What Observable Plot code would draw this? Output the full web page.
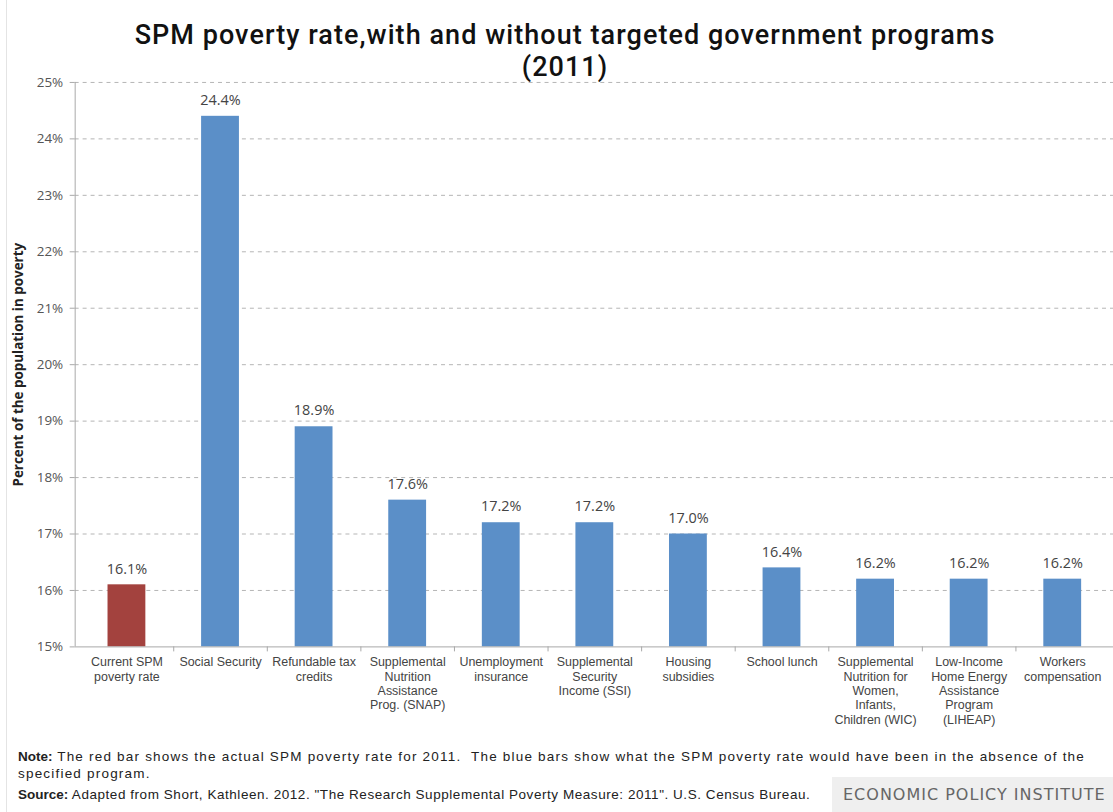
<!DOCTYPE html>
<html><head><meta charset="utf-8">
<script src="https://cdn.jsdelivr.net/npm/d3@7"></script>
<script src="https://cdn.jsdelivr.net/npm/@observablehq/plot@0.6"></script>
<style>
html,body{margin:0;padding:0;background:#fff;}
body{width:1113px;height:812px;overflow:hidden;position:relative;font-family:"Open Sans",sans-serif;}
#border{position:absolute;left:6px;top:0;width:1px;height:812px;background:#e4e4e4;}
#title{position:absolute;left:0;width:1130px;top:19px;text-align:center;font-family:Roboto,sans-serif;font-weight:500;font-size:27px;line-height:32px;color:#111;letter-spacing:1.05px;}
#chart{position:absolute;left:0;top:70px;}
#notes{position:absolute;left:18px;top:749px;font-family:"Liberation Sans",Arial,sans-serif;font-size:13.5px;color:#222;line-height:16.5px;width:1095px;white-space:nowrap;}
#note{letter-spacing:1.2px;}
#notes b{font-weight:700;letter-spacing:0;}
#source{margin-top:5px;letter-spacing:0.55px;}
#epi{position:absolute;left:832px;top:777px;width:281px;height:35px;background:#efefef;color:#666;font-family:"DejaVu Sans",sans-serif;font-size:16px;line-height:36px;padding-left:11px;box-sizing:border-box;white-space:nowrap;letter-spacing:1px;}
</style></head>
<body>
<div id="border"></div>
<div id="title">SPM poverty rate,with and without targeted government programs<br>(2011)</div>
<div id="chart"></div>
<div id="notes">
<div id="note"><b>Note:</b> The red bar shows the actual SPM poverty rate for 2011.&nbsp; The blue bars show what the SPM poverty rate would have been in the absence of the<br>specified program.</div>
<div id="source"><b>Source:</b> Adapted from Short, Kathleen. 2012. "The Research Supplemental Poverty Measure: 2011". U.S. Census Bureau.</div>
</div>
<div id="epi">ECONOMIC POLICY INSTITUTE</div>
<script>
const categories = [
  "Current SPM poverty rate", "Social Security", "Refundable tax credits",
  "Supplemental Nutrition Assistance Prog. (SNAP)", "Unemployment insurance",
  "Supplemental Security Income (SSI)", "Housing subsidies", "School lunch",
  "Supplemental Nutrition for Women, Infants, Children (WIC)",
  "Low-Income Home Energy Assistance Program (LIHEAP)", "Workers compensation"
];
const tickLabels = [
  "Current SPM\npoverty rate", "Social Security", "Refundable tax\ncredits",
  "Supplemental\nNutrition\nAssistance\nProg. (SNAP)", "Unemployment\ninsurance",
  "Supplemental\nSecurity\nIncome (SSI)", "Housing\nsubsidies", "School lunch",
  "Supplemental\nNutrition for\nWomen,\nInfants,\nChildren (WIC)",
  "Low-Income\nHome Energy\nAssistance\nProgram\n(LIHEAP)", "Workers\ncompensation"
];
const values = [16.1, 24.4, 18.9, 17.6, 17.2, 17.2, 17.0, 16.4, 16.2, 16.2, 16.2];
const kinds = ["Actual", "Without program", "Without program", "Without program", "Without program",
  "Without program", "Without program", "Without program", "Without program", "Without program", "Without program"];
const yTicks = [15, 16, 17, 18, 19, 20, 21, 22, 23, 24, 25];
const yLabel = "Percent of the population in poverty";

const data = categories.map((c, i) => ({category: c, label: tickLabels[i], value: values[i], kind: kinds[i]}));
const labelOf = new Map(categories.map((c, i) => [c, tickLabels[i]]));

function axisFrame(index, scales, vals, dims) {
  const x = scales.x, y = scales.y;
  const g = d3.create("svg:g").attr("stroke", "#a8a8a8").attr("fill", "none");
  const x0 = dims.marginLeft;
  const y0 = y(15), y1 = y(25);
  g.append("line").attr("x1", x0 + 0.5).attr("x2", x0 + 0.5).attr("y1", y1).attr("y2", y0);
  g.append("line").attr("x1", x0).attr("x2", dims.width).attr("y1", y0 + 0.5).attr("y2", y0 + 0.5);
  const gap = (x.step() - x.bandwidth()) / 2;
  for (const c of categories.slice(1)) {
    const bx = Math.round(x(c) - gap) + 0.5;
    g.append("line").attr("x1", bx).attr("x2", bx).attr("y1", y0).attr("y2", y0 + 5);
  }
  return g.node();
}

const chart = Plot.plot({
  width: 1118,
  height: 670,
  marginLeft: 75,
  marginRight: 0,
  marginTop: 12,
  marginBottom: 91,
  style: {fontFamily: "Open Sans, sans-serif", fontSize: "12px", background: "transparent", overflow: "visible"},
  x: {domain: categories, paddingInner: 0.6, paddingOuter: 0.3, label: null},
  y: {domain: [15, 25], label: null},
  color: {domain: ["Actual", "Without program"], range: ["#a3423e", "#5b8fc8"]},
  marks: [
    Plot.ruleY(yTicks.slice(1), {stroke: "#b4b4b4", strokeDasharray: "4,4"}),
    Plot.barY(data, {x: "category", y1: 15, y2: "value", fill: "kind"}),
    Plot.text(data, {x: "category", y: "value", text: d => d.value.toFixed(1) + "%", dy: -16, fontSize: 14.5, fill: "#444"}),
    Plot.axisY({ticks: yTicks, tickFormat: d => d + "%", tickSize: 5, tickPadding: 7, label: null, stroke: "#a8a8a8", fill: "#555", fontSize: 13.5}),
    Plot.axisX({tickSize: 0, tickPadding: 9, tickFormat: d => labelOf.get(d), label: null, fill: "#444", fontFamily: "Liberation Sans, Arial, sans-serif", fontSize: 12.5, lineHeight: 1.16, lineAnchor: "top"}),
    Plot.text([yLabel], {frameAnchor: "left", textAnchor: "middle", rotate: -90, dx: -57, fontWeight: "bold", fontSize: 13.5, fill: "#222"}),
    axisFrame
  ]
});
document.getElementById("chart").appendChild(chart);
</script>
</body></html>
